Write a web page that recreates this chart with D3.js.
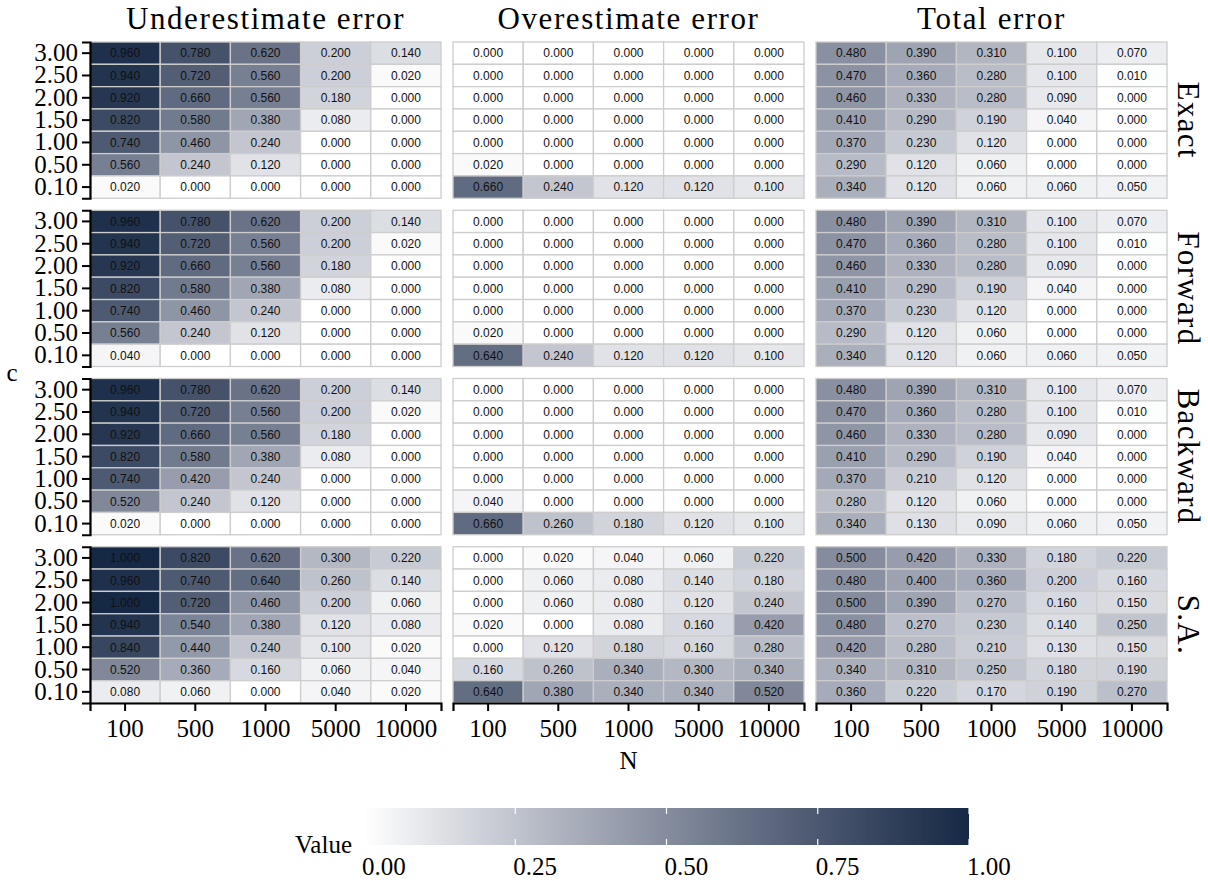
<!DOCTYPE html>
<html>
<head>
<meta charset="utf-8">
<script src="https://cdn.jsdelivr.net/npm/d3@7"></script>
<style>
  body { margin: 0; background: #fff; }
  svg { display: block; }
</style>
</head>
<body>
<script>
// chart size
const w = 1208
const h = 881

// categories
const nLabels = ["100", "500", "1000", "5000", "10000"]
const cLabels = ["3.00", "2.50", "2.00", "1.50", "1.00", "0.50", "0.10"]
const methods = ["Exact", "Forward", "Backward", "S.A."]
const errorTypes = ["Underestimate error", "Overestimate error", "Total error"]
const legendTicks = [0, 0.25, 0.5, 0.75, 1]

// values, rows = c (3.00 -> 0.10), columns = N (100 -> 10000)
const exactUnder = [
  [0.96, 0.78, 0.62, 0.20, 0.14],
  [0.94, 0.72, 0.56, 0.20, 0.02],
  [0.92, 0.66, 0.56, 0.18, 0.00],
  [0.82, 0.58, 0.38, 0.08, 0.00],
  [0.74, 0.46, 0.24, 0.00, 0.00],
  [0.56, 0.24, 0.12, 0.00, 0.00],
  [0.02, 0.00, 0.00, 0.00, 0.00]]
const exactOver = [
  [0, 0, 0, 0, 0],
  [0, 0, 0, 0, 0],
  [0, 0, 0, 0, 0],
  [0, 0, 0, 0, 0],
  [0, 0, 0, 0, 0],
  [0.02, 0, 0, 0, 0],
  [0.66, 0.24, 0.12, 0.12, 0.10]]
const exactTotal = [
  [0.48, 0.39, 0.31, 0.10, 0.07],
  [0.47, 0.36, 0.28, 0.10, 0.01],
  [0.46, 0.33, 0.28, 0.09, 0.00],
  [0.41, 0.29, 0.19, 0.04, 0.00],
  [0.37, 0.23, 0.12, 0.00, 0.00],
  [0.29, 0.12, 0.06, 0.00, 0.00],
  [0.34, 0.12, 0.06, 0.06, 0.05]]

const forwardUnder = [
  [0.96, 0.78, 0.62, 0.20, 0.14],
  [0.94, 0.72, 0.56, 0.20, 0.02],
  [0.92, 0.66, 0.56, 0.18, 0.00],
  [0.82, 0.58, 0.38, 0.08, 0.00],
  [0.74, 0.46, 0.24, 0.00, 0.00],
  [0.56, 0.24, 0.12, 0.00, 0.00],
  [0.04, 0.00, 0.00, 0.00, 0.00]]
const forwardOver = [
  [0, 0, 0, 0, 0],
  [0, 0, 0, 0, 0],
  [0, 0, 0, 0, 0],
  [0, 0, 0, 0, 0],
  [0, 0, 0, 0, 0],
  [0.02, 0, 0, 0, 0],
  [0.64, 0.24, 0.12, 0.12, 0.10]]
const forwardTotal = [
  [0.48, 0.39, 0.31, 0.10, 0.07],
  [0.47, 0.36, 0.28, 0.10, 0.01],
  [0.46, 0.33, 0.28, 0.09, 0.00],
  [0.41, 0.29, 0.19, 0.04, 0.00],
  [0.37, 0.23, 0.12, 0.00, 0.00],
  [0.29, 0.12, 0.06, 0.00, 0.00],
  [0.34, 0.12, 0.06, 0.06, 0.05]]

const backwardUnder = [
  [0.96, 0.78, 0.62, 0.20, 0.14],
  [0.94, 0.72, 0.56, 0.20, 0.02],
  [0.92, 0.66, 0.56, 0.18, 0.00],
  [0.82, 0.58, 0.38, 0.08, 0.00],
  [0.74, 0.42, 0.24, 0.00, 0.00],
  [0.52, 0.24, 0.12, 0.00, 0.00],
  [0.02, 0.00, 0.00, 0.00, 0.00]]
const backwardOver = [
  [0, 0, 0, 0, 0],
  [0, 0, 0, 0, 0],
  [0, 0, 0, 0, 0],
  [0, 0, 0, 0, 0],
  [0, 0, 0, 0, 0],
  [0.04, 0, 0, 0, 0],
  [0.66, 0.26, 0.18, 0.12, 0.10]]
const backwardTotal = [
  [0.48, 0.39, 0.31, 0.10, 0.07],
  [0.47, 0.36, 0.28, 0.10, 0.01],
  [0.46, 0.33, 0.28, 0.09, 0.00],
  [0.41, 0.29, 0.19, 0.04, 0.00],
  [0.37, 0.21, 0.12, 0.00, 0.00],
  [0.28, 0.12, 0.06, 0.00, 0.00],
  [0.34, 0.13, 0.09, 0.06, 0.05]]

const saUnder = [
  [1.00, 0.82, 0.62, 0.30, 0.22],
  [0.96, 0.74, 0.64, 0.26, 0.14],
  [1.00, 0.72, 0.46, 0.20, 0.06],
  [0.94, 0.54, 0.38, 0.12, 0.08],
  [0.84, 0.44, 0.24, 0.10, 0.02],
  [0.52, 0.36, 0.16, 0.06, 0.04],
  [0.08, 0.06, 0.00, 0.04, 0.02]]
const saOver = [
  [0.00, 0.02, 0.04, 0.06, 0.22],
  [0.00, 0.06, 0.08, 0.14, 0.18],
  [0.00, 0.06, 0.08, 0.12, 0.24],
  [0.02, 0.00, 0.08, 0.16, 0.42],
  [0.00, 0.12, 0.18, 0.16, 0.28],
  [0.16, 0.26, 0.34, 0.30, 0.34],
  [0.64, 0.38, 0.34, 0.34, 0.52]]
const saTotal = [
  [0.50, 0.42, 0.33, 0.18, 0.22],
  [0.48, 0.40, 0.36, 0.20, 0.16],
  [0.50, 0.39, 0.27, 0.16, 0.15],
  [0.48, 0.27, 0.23, 0.14, 0.25],
  [0.42, 0.28, 0.21, 0.13, 0.15],
  [0.34, 0.31, 0.25, 0.18, 0.19],
  [0.36, 0.22, 0.17, 0.19, 0.27]]

const panelValues = [
  [exactUnder, exactOver, exactTotal],
  [forwardUnder, forwardOver, forwardTotal],
  [backwardUnder, backwardOver, backwardTotal],
  [saUnder, saOver, saTotal]]

const serif = "'Liberation Serif', 'Times New Roman', serif"
const sans = "'Liberation Sans', Arial, sans-serif"

const svg = d3.select('body')
  .append('svg')
  .attr('width', w)
  .attr('height', h)

// panel layout
const colScale = d3.scaleBand()
  .domain(errorTypes)
  .range([90, 1167])
  .paddingInner(12 / 363)
const rowScale = d3.scaleBand()
  .domain(methods)
  .range([42, 703])
  .paddingInner(12 / 168.25)

const pw = colScale.bandwidth()
const ph = rowScale.bandwidth()

const xScale = d3.scaleBand().domain(nLabels).range([0, pw])
const yScale = d3.scaleBand().domain(cLabels).range([0, ph])

const color = d3.scaleLinear()
  .domain([0, 1])
  .range(["#ffffff", "#152945"])
  .interpolate(d3.interpolateLab)

const fmt = d3.format(".3f")

// panels
methods.forEach(function(m, mi) {
  errorTypes.forEach(function(e, ei) {
    const g = svg.append('g')
      .attr('transform', 'translate(' + colScale(e) + ',' + rowScale(m) + ')')

    const cells = []
    panelValues[mi][ei].forEach(function(row, ri) {
      row.forEach(function(v, ci) {
        cells.push({ n: nLabels[ci], c: cLabels[ri], v: v })
      })
    })

    g.selectAll('rect')
      .data(cells)
      .enter()
      .append('rect')
      .attr('x', d => xScale(d.n))
      .attr('y', d => yScale(d.c))
      .attr('width', xScale.bandwidth())
      .attr('height', yScale.bandwidth())
      .attr('fill', d => color(d.v))
      .attr('stroke', '#cdcdcd')
      .attr('stroke-width', 1.3)

    g.selectAll('text.val')
      .data(cells)
      .enter()
      .append('text')
      .attr('class', 'val')
      .attr('x', d => xScale(d.n) + xScale.bandwidth() / 2)
      .attr('y', d => yScale(d.c) + yScale.bandwidth() / 2)
      .attr('dy', '0.36em')
      .attr('text-anchor', 'middle')
      .style('font-family', sans)
      .style('font-size', '12px')
      .attr('fill', '#111')
      .text(d => fmt(d.v))

    // left axis on first column
    if (ei === 0) {
      const ax = g.append('g')
        .call(d3.axisLeft(yScale).tickSize(8).tickPadding(4))
      styleAxis(ax)
    }
    // bottom axis on last row
    if (mi === methods.length - 1) {
      const ax = g.append('g')
        .attr('transform', 'translate(0,' + ph + ')')
        .call(d3.axisBottom(xScale).tickSize(8).tickPadding(8))
      styleAxis(ax)
    }
  })
})

function styleAxis(ax) {
  ax.attr('font-family', null).attr('font-size', null)
  ax.select('.domain').attr('stroke', '#000').attr('stroke-width', 2.2)
  ax.selectAll('.tick line').attr('stroke', '#000').attr('stroke-width', 2)
  ax.selectAll('.tick text')
    .style('font-family', serif)
    .style('font-size', '25px')
    .attr('fill', '#000')
}

// column titles
svg.selectAll('text.coltitle')
  .data(errorTypes)
  .enter()
  .append('text')
  .attr('class', 'coltitle')
  .attr('x', d => colScale(d) + pw / 2)
  .attr('y', 29)
  .attr('text-anchor', 'middle')
  .style('font-family', serif)
  .style('font-size', '31px')
  .style('letter-spacing', '1.6px')
  .text(d => d)

// row strips
svg.selectAll('text.strip')
  .data(methods)
  .enter()
  .append('text')
  .attr('class', 'strip')
  .attr('transform', d => 'translate(1188,' + (rowScale(d) + ph / 2) + ') rotate(90)')
  .attr('text-anchor', 'middle')
  .attr('dominant-baseline', 'central')
  .style('font-family', serif)
  .style('font-size', '31px')
  .style('letter-spacing', '1.3px')
  .text(d => d)

// axis titles
svg.append('text')
  .attr('x', colScale(errorTypes[1]) + pw / 2)
  .attr('y', 769)
  .attr('text-anchor', 'middle')
  .style('font-family', serif)
  .style('font-size', '25px')
  .text('N')

svg.append('text')
  .attr('x', 12)
  .attr('y', 381)
  .attr('text-anchor', 'middle')
  .style('font-family', serif)
  .style('font-size', '25px')
  .text('c')

// legend
const lx = d3.scaleLinear().domain([0, 1]).range([364, 969])
const defs = svg.append('defs')
const grad = defs.append('linearGradient').attr('id', 'grad')
d3.range(0, 1.0001, 0.05).forEach(function(t) {
  grad.append('stop')
    .attr('offset', (t * 100) + '%')
    .attr('stop-color', color(t))
})

svg.append('rect')
  .attr('x', lx(0))
  .attr('y', 808)
  .attr('width', lx(1) - lx(0))
  .attr('height', 37)
  .attr('fill', 'url(#grad)')

legendTicks.forEach(function(t) {
  svg.append('line')
    .attr('x1', lx(t)).attr('x2', lx(t))
    .attr('y1', 808).attr('y2', 814)
    .attr('stroke', '#fff').attr('stroke-width', 1.2)
  svg.append('line')
    .attr('x1', lx(t)).attr('x2', lx(t))
    .attr('y1', 839).attr('y2', 845)
    .attr('stroke', '#fff').attr('stroke-width', 1.2)
})

svg.selectAll('text.ltick')
  .data(legendTicks)
  .enter()
  .append('text')
  .attr('class', 'ltick')
  .attr('x', d => lx(d) - 2)
  .attr('y', 875)
  .style('font-family', serif)
  .style('font-size', '25px')
  .text(d => d3.format(".2f")(d))

svg.append('text')
  .attr('x', 352)
  .attr('y', 853)
  .attr('text-anchor', 'end')
  .style('font-family', serif)
  .style('font-size', '25px')
  .text('Value')
</script>
</body>
</html>
